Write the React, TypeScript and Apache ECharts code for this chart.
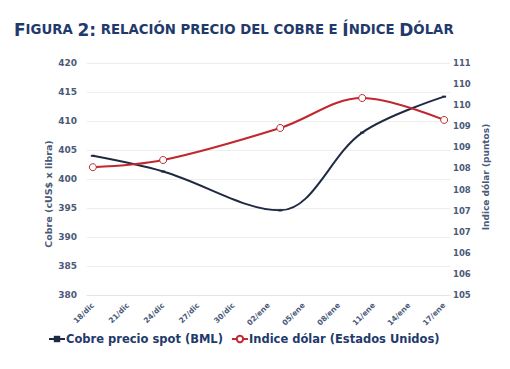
import React, { useEffect, useRef } from "react";
import * as echarts from "echarts";

const dayOffsets = [0, 6, 16, 23, 30];
const copperValues = [404.0, 401.3, 394.6, 408.0, 414.2];
const dollarValues = [108.03, 108.2, 108.96, 109.67, 109.15];
const xTickValues = [0, 3, 6, 9, 12, 15, 18, 21, 24, 27, 30];
const xTickLabels = ["18/dic", "21/dic", "24/dic", "27/dic", "30/dic", "02/ene", "05/ene", "08/ene", "11/ene", "14/ene", "17/ene"];

const NAVY = "#1F3A6B";
const LABEL = "#4A5A78";

export default function App() {
  const ref = useRef<HTMLDivElement>(null);
  useEffect(() => {
    const chart = echarts.init(ref.current!, null, { renderer: "svg" });
    const font = "DejaVu Sans";
    chart.setOption({
      animation: false,
      backgroundColor: "#ffffff",
      title: {
        text: "{b|F}{s|IGURA }{b|2:}{s| RELACIÓN PRECIO DEL COBRE E }{b|Í}{s|NDICE }{b|D}{s|ÓLAR}",
        left: 9,
        top: 16,
        textStyle: {
          rich: {
            b: { fontFamily: font, fontWeight: "bold", fontSize: 17, color: NAVY },
            s: { fontFamily: font, fontWeight: "bold", fontSize: 13.3, color: NAVY },
          },
        },
      },
      graphic: [
        {
          type: "text",
          x: 48,
          y: 194,
          rotation: Math.PI / 2,
          style: {
            text: "Cobre (cUS$ x libra)",
            fontFamily: font,
            fontSize: 9.5,
            fontWeight: "bold",
            fill: LABEL,
            align: "center",
            verticalAlign: "middle",
          },
        },
        {
          type: "text",
          x: 486,
          y: 177,
          rotation: Math.PI / 2,
          style: {
            text: "Indice dólar (puntos)",
            fontFamily: font,
            fontSize: 9,
            fontWeight: "bold",
            fill: LABEL,
            align: "center",
            verticalAlign: "middle",
          },
        },
      ],
      grid: { left: 87, right: 60, top: 63, bottom: 74 },
      legend: {
        left: 43,
        top: 328,
        itemGap: 8,
        itemWidth: 16,
        itemHeight: 8,
        textStyle: { fontFamily: font, fontSize: 11.5, fontWeight: "bold", color: NAVY, padding: [0, 0, 0, -4] },
        data: [{ name: "Cobre precio spot (BML)" }, { name: "Indice dólar (Estados Unidos)" }],
      },
      xAxis: {
        type: "value",
        min: -0.5,
        max: 30.5,
        axisLine: { show: true, lineStyle: { color: "#E4E4E4", width: 1 } },
        axisTick: { show: false },
        splitLine: { show: false },
        axisLabel: {
          customValues: xTickValues,
          rotate: 45,
          fontFamily: font,
          fontSize: 7.5,
          fontWeight: "bold",
          color: LABEL,
          margin: 9,
          formatter: (v: number) => xTickLabels[xTickValues.indexOf(Math.round(v))] ?? "",
        },
      },
      yAxis: [
        {
          type: "value",
          min: 380,
          max: 420,
          interval: 5,
          axisLine: { show: false },
          axisTick: { show: false },
          axisLabel: { fontFamily: font, fontSize: 9, fontWeight: "bold", color: LABEL, margin: 10 },
          splitLine: { lineStyle: { color: "#EDEDED", width: 1 } },
        },
        {
          type: "value",
          min: 105,
          max: 110.5,
          interval: 0.5,
          axisLine: { show: false },
          axisTick: { show: false },
          axisLabel: {
            fontFamily: font,
            fontSize: 8.5,
            fontWeight: "bold",
            color: LABEL,
            margin: 3,
            formatter: (v: number) => String(Math.round(v)),
          },
          splitLine: { show: false },
        },
      ],
      series: [
        {
          name: "Cobre precio spot (BML)",
          type: "line",
          yAxisIndex: 0,
          smooth: 0.35,
          data: dayOffsets.map((d, i) => [d, copperValues[i]]),
          symbol: "rect",
          symbolSize: [4, 2],
          lineStyle: { color: "#1E2A44", width: 2 },
          itemStyle: { color: "#1E2A44" },
        },
        {
          name: "Indice dólar (Estados Unidos)",
          type: "line",
          yAxisIndex: 1,
          smooth: 0.35,
          data: dayOffsets.map((d, i) => [d, dollarValues[i]]),
          symbol: "circle",
          symbolSize: 7,
          lineStyle: { color: "#C0282E", width: 2 },
          itemStyle: { color: "#FFFFFF", borderColor: "#C0282E", borderWidth: 1 },
        },
      ],
    });
    return () => chart.dispose();
  }, []);
  return <div ref={ref} style={{ position: "absolute", left: 0, top: 0, width: 510, height: 369 }} />;
}
